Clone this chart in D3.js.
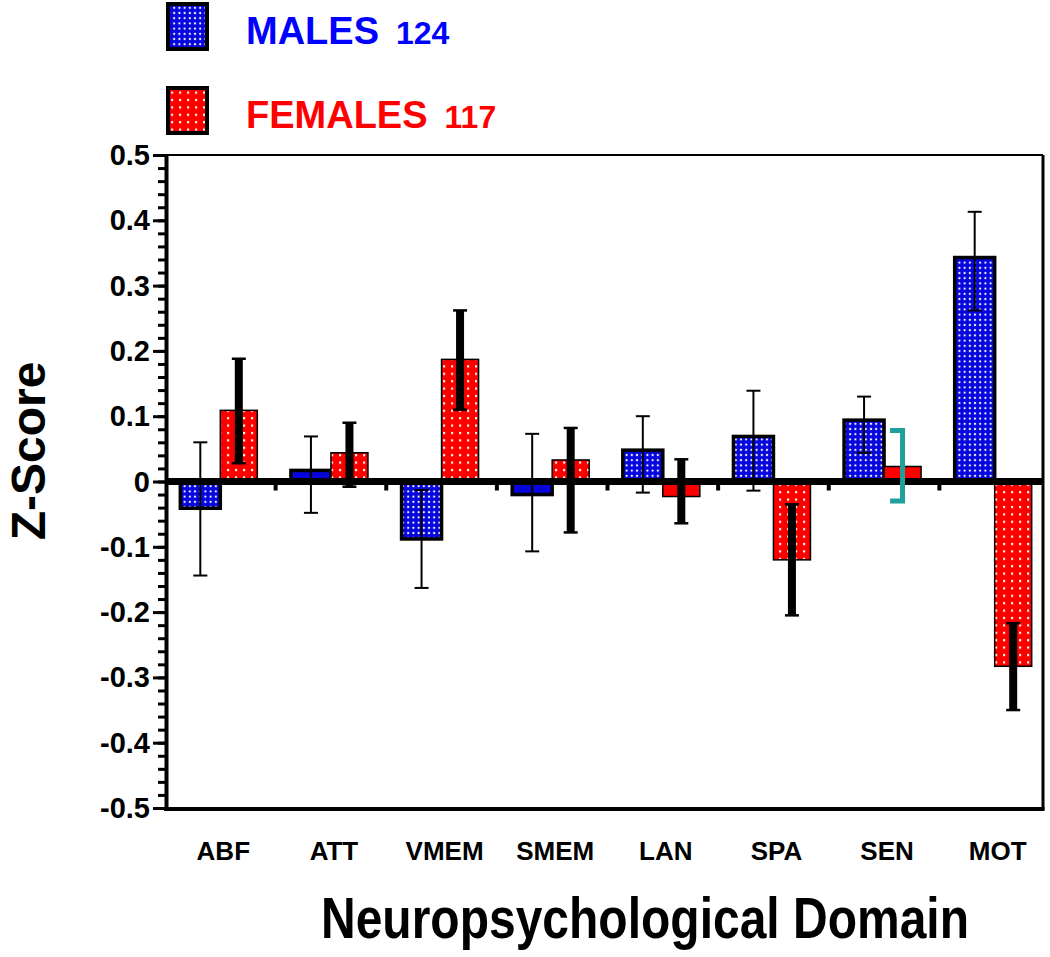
<!DOCTYPE html>
<html>
<head>
    <title>Z-Score by Neuropsychological Domain</title>
    <script src="https://d3js.org/d3.v7.min.js"></script>
    <style>
        body {
            margin: 0;
            background: white;
            font-family: Arial, "Liberation Sans", sans-serif;
        }
        svg text {
            font-weight: bold;
        }
    </style>
</head>
<body>
    <div id="chart"></div>

    <script>
        // data
        const categories = ["ABF", "ATT", "VMEM", "SMEM", "LAN", "SPA", "SEN", "MOT"];
        const maleMean = [-0.041, 0.017, -0.088, -0.020, 0.048, 0.069, 0.094, 0.343];
        const maleHi = [0.060, 0.069, -0.013, 0.073, 0.100, 0.139, 0.130, 0.413];
        const maleLo = [-0.144, -0.048, -0.163, -0.107, -0.017, -0.014, 0.044, 0.262];
        const femaleMean = [0.109, 0.044, 0.187, 0.033, -0.023, -0.120, 0.023, -0.283];
        const femaleHi = [0.188, 0.090, 0.262, 0.082, 0.034, -0.035, 0.078, -0.217];
        const femaleLo = [0.028, -0.008, 0.110, -0.078, -0.064, -0.205, -0.030, -0.350];
        const yTicks = [-0.5, -0.4, -0.3, -0.2, -0.1, 0, 0.1, 0.2, 0.3, 0.4, 0.5];
        const yTickLabels = ["-0.5", "-0.4", "-0.3", "-0.2", "-0.1", "0", "0.1", "0.2", "0.3", "0.4", "0.5"];
        const legendNames = ["MALES", "FEMALES"];
        const legendCounts = ["124", "117"];

        const width = 1050, height = 957;
        const blue = "#0505dc", red = "#fc0000", teal = "#1fa09b";

        var svg = d3.select("#chart").append("svg")
            .attr("width", width)
            .attr("height", height);

        var x = d3.scaleBand().domain(categories).range([165, 1050]).padding(0);
        var y = d3.scaleLinear().domain([-0.5, 0.5]).range([808, 155]);
        var frameRight = 1043;

        // dotted fills
        var defs = svg.append("defs");
        var pm = defs.append("pattern").attr("id", "dotsBlue")
            .attr("patternUnits", "userSpaceOnUse").attr("width", 5.2).attr("height", 5.2);
        pm.append("rect").attr("width", 5.2).attr("height", 5.2).attr("fill", blue);
        pm.append("rect").attr("x", 1.6).attr("y", 1.6).attr("width", 2).attr("height", 2).attr("fill", "#f6f6ff");
        var pf = defs.append("pattern").attr("id", "dotsRed")
            .attr("patternUnits", "userSpaceOnUse").attr("width", 8).attr("height", 7.4);
        pf.append("rect").attr("width", 8).attr("height", 7.4).attr("fill", red);
        pf.append("rect").attr("x", 3).attr("y", 2.7).attr("width", 2.2).attr("height", 2.2).attr("fill", "#fff6e8");

        var maleW = 40, femaleW = 37;
        function cx(i) { return x(categories[i]) + x.bandwidth() / 2; }

        // male bars
        svg.selectAll(".bar-male")
            .data(maleMean)
            .enter().append("rect")
            .attr("class", "bar-male")
            .attr("x", (d, i) => cx(i) - maleW)
            .attr("y", d => y(Math.max(0, d)))
            .attr("width", maleW)
            .attr("height", d => Math.abs(y(d) - y(0)))
            .attr("fill", d => Math.abs(d) < 0.03 ? blue : "url(#dotsBlue)")
            .attr("stroke", "black")
            .attr("stroke-width", 3.5);

        // female bars
        svg.selectAll(".bar-female")
            .data(femaleMean)
            .enter().append("rect")
            .attr("class", "bar-female")
            .attr("x", (d, i) => cx(i))
            .attr("y", d => y(Math.max(0, d)))
            .attr("width", femaleW)
            .attr("height", d => Math.abs(y(d) - y(0)))
            .attr("fill", d => Math.abs(d) < 0.03 ? red : "url(#dotsRed)")
            .attr("stroke", "black")
            .attr("stroke-width", 1.5);

        // zero line and group ticks
        svg.append("line")
            .attr("x1", 166).attr("x2", frameRight)
            .attr("y1", y(0)).attr("y2", y(0))
            .attr("stroke", "black").attr("stroke-width", 7);
        categories.slice(1).forEach(c => {
            svg.append("line")
                .attr("x1", x(c)).attr("x2", x(c))
                .attr("y1", y(0) + 3).attr("y2", y(0) + 9)
                .attr("stroke", "black").attr("stroke-width", 4);
        });

        // male error bars (thin)
        maleMean.forEach((d, i) => {
            var ex = cx(i) - maleW / 2;
            svg.append("line")
                .attr("x1", ex).attr("x2", ex)
                .attr("y1", y(maleHi[i])).attr("y2", y(maleLo[i]))
                .attr("stroke", "black").attr("stroke-width", 2);
            [maleHi[i], maleLo[i]].forEach(v => {
                svg.append("line")
                    .attr("x1", ex - 7).attr("x2", ex + 7)
                    .attr("y1", y(v)).attr("y2", y(v))
                    .attr("stroke", "black").attr("stroke-width", 2);
            });
        });

        // female error bars (thick, SEN drawn as teal bracket)
        femaleMean.forEach((d, i) => {
            var ex = cx(i) + femaleW / 2;
            if (categories[i] === "SEN") {
                svg.append("path")
                    .attr("d", "M" + (ex - 10) + "," + y(femaleHi[i]) +
                        "H" + ex + "V" + y(femaleLo[i]) + "H" + (ex - 10))
                    .attr("fill", "none")
                    .attr("stroke", teal).attr("stroke-width", 5)
                    .attr("stroke-linecap", "square");
                return;
            }
            svg.append("line")
                .attr("x1", ex).attr("x2", ex)
                .attr("y1", y(femaleHi[i])).attr("y2", y(femaleLo[i]))
                .attr("stroke", "black").attr("stroke-width", 8);
            [femaleHi[i], femaleLo[i]].forEach(v => {
                svg.append("line")
                    .attr("x1", ex - 7).attr("x2", ex + 7)
                    .attr("y1", y(v)).attr("y2", y(v))
                    .attr("stroke", "black").attr("stroke-width", 2.5);
            });
        });

        // frame
        svg.append("line")
            .attr("x1", 166).attr("x2", frameRight)
            .attr("y1", y(0.5)).attr("y2", y(0.5))
            .attr("stroke", "black").attr("stroke-width", 2);
        svg.append("line")
            .attr("x1", frameRight).attr("x2", frameRight)
            .attr("y1", y(0.5)).attr("y2", y(-0.5) + 2)
            .attr("stroke", "black").attr("stroke-width", 3);
        svg.append("line")
            .attr("x1", 164).attr("x2", frameRight + 1.5)
            .attr("y1", y(-0.5) + 1).attr("y2", y(-0.5) + 1)
            .attr("stroke", "black").attr("stroke-width", 4);

        // y axis, minor ticks every 0.02
        var minor = d3.range(-50, 51, 2).map(v => v / 100);
        var gMinor = svg.append("g")
            .attr("transform", "translate(166,0)")
            .call(d3.axisLeft(y).tickValues(minor).tickSize(8).tickFormat(""));
        gMinor.select(".domain").remove();
        gMinor.selectAll("line").attr("stroke-width", 3);

        var gy = svg.append("g")
            .attr("transform", "translate(166,0)")
            .call(d3.axisLeft(y).tickValues(yTicks).tickSize(13).tickSizeOuter(0)
                .tickFormat((d, i) => yTickLabels[i]));
        gy.select(".domain").attr("stroke-width", 4);
        gy.selectAll("line").attr("stroke-width", 3);
        gy.selectAll("text")
            .attr("x", -16)
            .attr("dy", "0.33em")
            .attr("fill", "black")
            .style("font-size", "29px")
            .style("font-family", "Arial, 'Liberation Sans', sans-serif");

        // category labels
        svg.selectAll(".cat")
            .data(categories)
            .enter().append("text")
            .attr("class", "cat")
            .attr("x", d => x(d) + x.bandwidth() / 2 + 3)
            .attr("y", 860)
            .attr("text-anchor", "middle")
            .style("font-size", "26px")
            .text(d => d);

        // axis titles
        svg.append("text")
            .attr("transform", "translate(645,938) scale(1,1.18)")
            .attr("text-anchor", "middle")
            .style("font-size", "48px")
            .text("Neuropsychological Domain");

        svg.append("text")
            .attr("transform", "translate(45,451) rotate(-90)")
            .attr("text-anchor", "middle")
            .style("font-size", "48px")
            .text("Z-Score");

        // legend
        var legendFill = ["url(#dotsBlue)", "url(#dotsRed)"];
        var legendColor = ["#0000ff", "#ff0000"];
        var legendTop = [4, 88];
        legendNames.forEach((name, i) => {
            svg.append("rect")
                .attr("x", 168).attr("y", legendTop[i])
                .attr("width", 39).attr("height", 45)
                .attr("fill", legendFill[i])
                .attr("stroke", "black").attr("stroke-width", 4);
            var t = svg.append("text")
                .attr("x", 246).attr("y", legendTop[i] + 40)
                .attr("fill", legendColor[i]);
            t.append("tspan").style("font-size", "38px").text(name);
            t.append("tspan").attr("dx", 17).style("font-size", "32px").text(legendCounts[i]);
        });
    </script>
</body>
</html>
